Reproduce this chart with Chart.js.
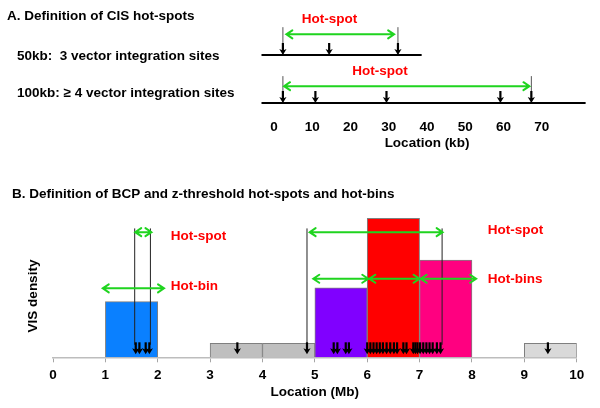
<!DOCTYPE html>
<html>
<head>
<meta charset="utf-8">
<script src="https://cdn.jsdelivr.net/npm/chart.js@4.4.1/dist/chart.umd.min.js"></script>
<style>
  html, body { margin: 0; padding: 0; background: #ffffff; }
  canvas { display: block; }
</style>
</head>
<body>
<canvas id="chartA" width="600" height="160"></canvas>
<canvas id="chartB" width="600" height="248"></canvas>
<script>
// ---------------- DATA: panel A (kb) ----------------
const kbTicks = [0, 10, 20, 30, 40, 50, 60, 70];
const row50Track = [-3.3, 38.6];
const row100Track = [-3.3, 81.5];
const row50Sites = [2.3, 14.4, 32.4];
const row100Sites = [2.3, 10.8, 29.4, 59.2, 67.3];
const row50Spot = [2.3, 32.4];
const row100Spot = [2.3, 67.3];
const row50SpotArrow = [3.2, 31.4];
const row100SpotArrow = [2.6, 66.8];
const row50Label = 14.5;
const row100Label = 27.7;

// ---------------- DATA: panel B (Mb) ----------------
const mbTicks = [0, 1, 2, 3, 4, 5, 6, 7, 8, 9, 10];
const binCenters = [1.5, 3.5, 4.5, 5.5, 6.5, 7.5, 9.5];
const binDensity = [4, 1, 1, 5, 10, 7, 1];
const visSites = [1.58, 1.65, 1.77, 1.84,
  3.52, 4.85,
  5.36, 5.43, 5.59, 5.65,
  6.00, 6.06, 6.12, 6.18, 6.24, 6.30, 6.37, 6.44, 6.51, 6.57, 6.69, 6.75,
  6.88, 6.92, 6.96, 7.01, 7.07, 7.13, 7.19, 7.25, 7.33, 7.40,
  9.45];
const hotSpotBounds = [[1.56, 1.86], [4.85, 7.43]];
const hotSpotArrows = [[1.57, 1.88], [4.90, 7.44]];
const hotBinArrows = [[0.95, 2.12]];
const hotBinsArrows = [[4.97, 6.02], [6.04, 7.00], [7.02, 8.08]];

// ---------------- styles ----------------
const FONT = '"Liberation Sans", Arial, sans-serif';
const BOLD = 'bold 13.5px ' + FONT;
const GREEN = '#1fd41f';
const RED = '#ff0000';
const binColors = ['#0a80ff', '#bfbfbf', '#bfbfbf', '#8000ff', '#ff0000', '#ff0080', '#d9d9d9'];

function downArrow(ctx, x, yTip, len) {
  ctx.save();
  ctx.strokeStyle = '#000';
  ctx.lineWidth = 2.2;
  ctx.beginPath();
  ctx.moveTo(x, yTip - len);
  ctx.lineTo(x, yTip - 4);
  ctx.stroke();
  ctx.fillStyle = '#000';
  ctx.beginPath();
  ctx.moveTo(x - 3.6, yTip - 6);
  ctx.lineTo(x, yTip - 4.5);
  ctx.lineTo(x + 3.6, yTip - 6);
  ctx.lineTo(x, yTip);
  ctx.closePath();
  ctx.fill();
  ctx.restore();
}
function dblArrow(ctx, x1, x2, y) {
  ctx.save();
  ctx.strokeStyle = GREEN;
  ctx.lineWidth = 2;
  ctx.lineCap = 'round';
  ctx.beginPath();
  ctx.moveTo(x1, y); ctx.lineTo(x2, y);
  ctx.moveTo(x1 + 6, y - 4); ctx.lineTo(x1, y); ctx.lineTo(x1 + 6, y + 4);
  ctx.moveTo(x2 - 6, y - 4); ctx.lineTo(x2, y); ctx.lineTo(x2 - 6, y + 4);
  ctx.stroke();
  ctx.restore();
}
function text(ctx, str, x, y, color, align, baseline) {
  ctx.save();
  ctx.font = BOLD;
  ctx.fillStyle = color;
  ctx.textAlign = align || 'left';
  ctx.textBaseline = baseline || 'alphabetic';
  ctx.fillText(str, x, y);
  ctx.restore();
}

// ---------------- Chart A ----------------
function segment(x1, y1, x2, y2) { return [{x: x1, y: y1}, {x: x2, y: y2}]; }
const lineStyle = (color, w) => ({ showLine: true, borderColor: color, borderWidth: w, pointRadius: 0, fill: false });

const aDatasets = [
  Object.assign({ data: segment(row50Track[0], 1, row50Track[1], 1) }, lineStyle('#000', 2)),
  Object.assign({ data: segment(row100Track[0], 0, row100Track[1], 0) }, lineStyle('#000', 2)),
];
row50Spot.forEach(v => aDatasets.push(Object.assign({ data: segment(v, 1, v, 1.58) }, lineStyle('#555', 1))));
row100Spot.forEach(v => aDatasets.push(Object.assign({ data: segment(v, 0, v, 0.56) }, lineStyle('#555', 1))));

const pluginA = {
  id: 'annotA',
  afterDatasetsDraw(chart) {
    const ctx = chart.ctx, xs = chart.scales.x, ys = chart.scales.y;
    row50Sites.forEach(v => downArrow(ctx, xs.getPixelForValue(v), ys.getPixelForValue(1), 12));
    row100Sites.forEach(v => downArrow(ctx, xs.getPixelForValue(v), ys.getPixelForValue(0), 12));
    dblArrow(ctx, xs.getPixelForValue(row50SpotArrow[0]), xs.getPixelForValue(row50SpotArrow[1]), ys.getPixelForValue(1.43));
    dblArrow(ctx, xs.getPixelForValue(row100SpotArrow[0]), xs.getPixelForValue(row100SpotArrow[1]), ys.getPixelForValue(0.35));
    text(ctx, 'Hot-spot', xs.getPixelForValue(row50Label), ys.getPixelForValue(1.74), RED, 'center', 'middle');
    text(ctx, 'Hot-spot', xs.getPixelForValue(row100Label), ys.getPixelForValue(0.67), RED, 'center', 'middle');
    text(ctx, 'A. Definition of CIS hot-spots', 7, 20, '#000');
    text(ctx, '50kb:  3 vector integration sites', 17, 60, '#000');
    text(ctx, '100kb: \u2265 4 vector integration sites', 17, 97, '#000');
  }
};

new Chart(document.getElementById('chartA'), {
  type: 'scatter',
  data: { datasets: aDatasets },
  options: {
    responsive: false,
    animation: false,
    layout: { padding: { left: 255, right: 1, top: 0, bottom: 0 } },
    plugins: { legend: { display: false }, tooltip: { enabled: false } },
    scales: {
      x: {
        type: 'linear', min: -5, max: 85,
        afterBuildTicks: (axis) => { axis.ticks = kbTicks.map(v => ({ value: v })); },
        afterFit: (axis) => { axis.height = 44.3; },
        grid: { display: false, drawTicks: false },
        border: { display: false },
        ticks: { color: '#000', padding: 3, font: { family: FONT, size: 13.5, weight: 'bold' }, maxRotation: 0, autoSkip: false },
        title: { display: true, text: 'Location (kb)', color: '#000', padding: { top: 0, bottom: 9 }, font: { family: FONT, size: 13.5, weight: 'bold' } }
      },
      y: { display: false, min: -0.265, max: 2.146 }
    }
  },
  plugins: [pluginA]
});

// ---------------- Chart B ----------------
const bDatasets = [];
hotSpotBounds.forEach(pair => pair.forEach(v => bDatasets.push({
  type: 'line', data: segment(v, 0.9, v, 9.27), borderColor: '#222', borderWidth: 1, pointRadius: 0, fill: false
})));
bDatasets.push({
  type: 'bar',
  data: binCenters.map((c, i) => ({ x: c, y: binDensity[i] })),
  backgroundColor: binColors,
  borderColor: '#7f7f7f',
  borderWidth: 1,
  barPercentage: 1,
  categoryPercentage: 1
});

const pluginB = {
  id: 'annotB',
  afterDatasetsDraw(chart) {
    const ctx = chart.ctx, xs = chart.scales.x, ys = chart.scales.y;
    const base = ys.getPixelForValue(0);
    visSites.forEach(v => downArrow(ctx, xs.getPixelForValue(v), base - 3, 12));
    hotSpotArrows.forEach(p => dblArrow(ctx, xs.getPixelForValue(p[0]), xs.getPixelForValue(p[1]), ys.getPixelForValue(9.0)));
    hotBinArrows.forEach(p => dblArrow(ctx, xs.getPixelForValue(p[0]), xs.getPixelForValue(p[1]), ys.getPixelForValue(4.96)));
    hotBinsArrows.forEach(p => dblArrow(ctx, xs.getPixelForValue(p[0]), xs.getPixelForValue(p[1]), ys.getPixelForValue(5.65)));
    text(ctx, 'Hot-spot', xs.getPixelForValue(2.25), ys.getPixelForValue(8.68), RED, 'left', 'middle');
    text(ctx, 'Hot-bin', xs.getPixelForValue(2.25), ys.getPixelForValue(5.13), RED, 'left', 'middle');
    text(ctx, 'Hot-spot', xs.getPixelForValue(8.3), ys.getPixelForValue(9.1), RED, 'left', 'middle');
    text(ctx, 'Hot-bins', xs.getPixelForValue(8.3), ys.getPixelForValue(5.6), RED, 'left', 'middle');
    text(ctx, 'B. Definition of BCP and z-threshold hot-spots and hot-bins', 12, 38, '#000');
    ctx.save();
    ctx.translate(33, 136);
    ctx.rotate(-Math.PI / 2);
    text(ctx, 'VIS density', 0, 0, '#000', 'center', 'middle');
    ctx.restore();
  }
};

new Chart(document.getElementById('chartB'), {
  type: 'bar',
  data: { datasets: bDatasets },
  options: {
    responsive: false,
    animation: false,
    layout: { padding: { left: 53, right: 23.3, top: 9.6, bottom: 0 } },
    plugins: { legend: { display: false }, tooltip: { enabled: false } },
    scales: {
      x: {
        type: 'linear', min: 0, max: 10, offset: false,
        afterBuildTicks: (axis) => { axis.ticks = mbTicks.map(v => ({ value: v })); },
        afterFit: (axis) => { axis.height = 50.7; },
        grid: { display: true, drawOnChartArea: false, drawTicks: true, tickLength: 5, color: '#a6a6a6', offset: false },
        border: { display: true, color: '#bdbdbd', width: 1.5 },
        ticks: { color: '#000', padding: 5, font: { family: FONT, size: 13.5, weight: 'bold' }, maxRotation: 0, autoSkip: false },
        title: { display: true, text: 'Location (Mb)', color: '#000', padding: { top: 0.8, bottom: 7.9 }, font: { family: FONT, size: 13.5, weight: 'bold' } }
      },
      y: { display: false, min: 0, max: 13.5 }
    }
  },
  plugins: [pluginB]
});
</script>
</body>
</html>
